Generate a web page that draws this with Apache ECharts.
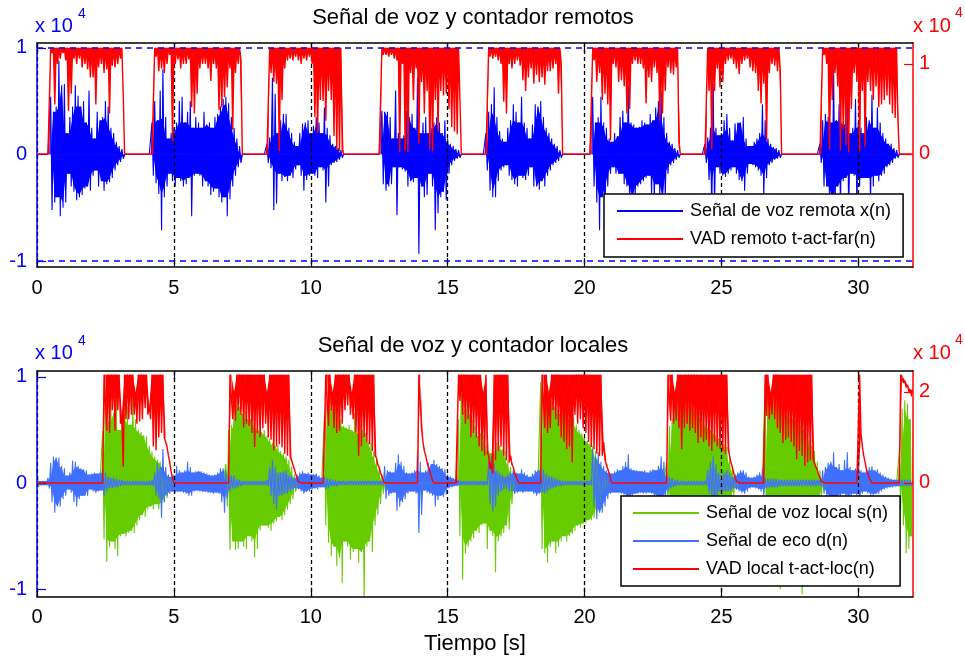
<!DOCTYPE html>
<html>
<head>
<meta charset="utf-8">
<script src="https://cdn.jsdelivr.net/npm/echarts@6/dist/echarts.min.js"></script>
<style>html,body{margin:0;padding:0;background:#fff}#c{width:965px;height:659px}</style>
</head>
<body>
<div id="c"></div>
<script>
// ---- data (sample bins every dt seconds; values in hundredths of 10^4) ----
const dt = 0.1;
const unit = 100;
const xTicks = [0, 5, 10, 15, 20, 25, 30];
const farLeftTicks = [-1, 0, 1];
const farRightTicks = [0, 1];
const locLeftTicks = [-1, 0, 1];
const locRightTicks = [0, 2];
const refLines = [1, -1];
const vadFarMax = 118;

// top: far-end speech x(n), upper / lower peaks per bin
const xUp = [
0,0,0,0,0,54,40,45,88,65, 66,20,35,45,65,55,45,50,30,60, 25,15,40,32,35,50,45,25,20,12, 8,5,0,0,0,0,0,0,0,0,
0,0,30,50,32,60,80,35,15,20, 25,30,50,54,30,40,50,25,35,30, 25,40,28,30,25,35,38,45,52,54, 48,35,25,15,8,0,0,0,0,0,
0,0,0,0,10,16,72,57,20,32, 38,38,25,20,12,8,20,29,30,32, 20,27,35,30,20,44,25,18,10,8, 6,4,0,0,0,0,0,0,0,0,
0,0,0,0,0,0,41,40,40,35, 15,60,20,15,18,41,35,38,25,72, 20,30,35,20,25,30,35,30,20,32, 15,10,8,5,4,0,0,0,0,0,
0,0,0,0,20,40,47,63,35,22, 15,12,25,32,47,40,30,54,30,25, 15,28,47,45,50,35,25,20,15,10, 8,4,0,0,0,0,0,0,0,0,
0,0,0,54,30,35,54,30,25,15, 12,20,17,35,41,30,65,30,28,25, 26,32,30,28,38,32,44,50,60,35, 20,12,10,6,4,0,0,0,0,0,
0,0,0,0,10,16,25,66,25,18, 20,32,38,25,13,29,30,30,35,15, 8,8,12,15,20,47,32,15,10,7, 6,4,0,0,0,0,0,0,0,0,
0,0,0,0,0,0,10,32,38,35, 30,80,32,47,30,28,65,20,25,52, 30,25,20,35,32,56,25,44,30,20, 15,10,10,6,4,0,0,0,0,0];
const xLo = [
0,0,0,0,0,-52,-45,-40,-58,-50, -45,-18,-30,-35,-43,-40,-38,-32,-30,-34, -20,-15,-30,-25,-34,-28,-26,-22,-15,-10, -7,-4,0,0,0,0,0,0,0,0,
0,0,-20,-27,-37,-71,-40,-30,-18,-25, -30,-22,-25,-30,-28,-22,-58,-20,-18,-20, -30,-25,-30,-38,-35,-32,-40,-45,-40,-58, -42,-30,-20,-12,-8,0,0,0,0,0,
0,0,0,0,-8,-13,-52,-46,-18,-25, -21,-25,-20,-22,-14,-10,-20,-34,-24,-20, -18,-20,-22,-12,-15,-45,-30,-10,-8,-7, -5,-3,0,0,0,0,0,0,0,0,
0,0,0,0,0,0,-28,-34,-30,-28, -12,-57,-12,-14,-16,-30,-25,-26,-22,-93, -30,-40,-38,-18,-30,-71,-55,-40,-35,-43, -18,-10,-6,-4,-3,0,0,0,0,0,
0,0,0,0,-15,-34,-40,-40,-25,-15, -12,-10,-20,-24,-28,-30,-20,-22,-24,-20, -12,-30,-30,-33,-25,-30,-20,-15,-10,-8, -6,-3,0,0,0,0,0,0,0,0,
0,0,0,-30,-45,-71,-40,-62,-30,-18, -12,-18,-18,-18,-28,-30,-56,-45,-40,-30, -28,-25,-22,-20,-40,-45,-28,-40,-50,-40, -18,-10,-8,-5,-3,0,0,0,0,0,
0,0,0,0,-8,-24,-55,-50,-12,-18, -20,-21,-18,-15,-12,-18,-24,-25,-34,-18, -9,-10,-12,-15,-20,-40,-22,-10,-8,-5, -4,-3,0,0,0,0,0,0,0,0,
0,0,0,0,0,0,-8,-30,-30,-45, -50,-55,-30,-50,-25,-22,-55,-18,-20,-50, -30,-22,-22,-22,-45,-30,-20,-25,-20,-18, -12,-10,-8,-4,-3,0,0,0,0,0];
// top: far VAD counter, lowest value per bin (0 = inactive)
const vadFarDip = [
0,0,0,0,0,112,55,100,106,112, 104,48,67,106,100,106,96,100,94,85, 85,55,96,100,90,94,45,98,96,100, 106,67,0,0,0,0,0,0,0,0,
0,0,0,108,92,95,90,100,110,14, 100,105,95,100,100,105,52,45,67,95, 100,100,95,81,100,95,49,52,63,74, 95,27,90,100,105,0,0,0,0,0,
0,0,0,0,0,90,80,78,3,60, 95,104,106,104,108,104,100,106,104,108, 100,41,23,60,59,37,70,60,20,5, 3,5,0,0,0,0,0,0,0,0,
0,0,0,0,0,0,110,110,108,110, 106,104,2,100,3,2,90,60,95,12, 80,45,70,5,3,60,25,70,65,67, 50,30,25,22,60,0,0,0,0,0,
0,0,0,0,0,108,106,108,104,100, 58,45,100,95,100,104,98,82,70,85, 95,78,88,80,85,77,92,92,95,100, 67,100,0,0,0,0,0,0,0,0,
0,0,0,104,80,90,60,67,55,15, 100,96,80,82,75,45,50,100,104,100, 100,95,56,85,80,96,90,37,45,70, 96,90,88,96,12,0,0,0,0,0,
0,0,0,0,0,70,5,70,95,74, 80,100,104,106,100,95,89,100,104,106, 96,92,90,70,56,78,15,90,100,98, 92,95,0,0,0,0,0,0,0,0,
0,0,0,0,0,0,0,110,100,5, 60,90,75,4,27,10,2,50,90,80, 3,70,8,80,70,60,75,52,55,60, 65,55,45,40,37,0,0,0,0,0];

// bottom: local speech s(n)
const sUp = [
14,0,0,0,0,0,0,0,0,0, 0,0,0,0,0,0,0,0,0,0, 0,0,0,0,49,90,58,75,66,79, 50,60,65,72,55,83,60,50,48,45,
44,35,30,25,22,20,18,12,8,4, 0,0,0,0,0,0,0,0,0,0, 0,0,0,0,0,0,0,0,0,18, 50,55,87,78,72,65,68,60,60,55,
52,50,48,50,45,42,38,35,36,30, 28,25,22,15,8,0,0,0,0,0, 0,0,0,0,0,63,75,83,70,80, 78,60,54,52,55,50,66,47,55,50,
47,40,38,30,22,15,8,0,0,0, 0,0,0,0,0,0,0,0,0,0, 0,0,0,0,0,0,0,0,0,0, 0,0,0,0,60,102,75,70,65,60,
54,44,47,45,35,30,28,30,38,35, 32,30,22,15,8,0,0,0,0,0, 0,0,0,0,95,85,79,75,78,72, 70,65,82,68,60,75,62,55,50,47,
45,40,38,35,30,22,15,10,5,0, 0,0,0,0,0,0,0,0,0,0, 0,0,0,0,0,0,0,0,0,0, 20,54,60,87,85,75,80,85,75,72,
70,68,62,60,55,52,50,47,45,42, 40,36,34,25,15,8,0,0,0,0, 0,0,0,0,0,0,95,94,82,80, 75,72,72,70,68,62,60,58,66,55,
50,47,40,35,30,20,12,6,0,0, 0,0,0,0,0,0,0,0,0,0, 0,0,0,0,0,0,0,0,0,0, 0,0,0,0,0,30,70,78,75,60];
const sLo = [
-4,0,0,0,0,0,0,0,0,0, 0,0,0,0,0,0,0,0,0,0, 0,0,0,0,-53,-74,-60,-55,-62,-69, -50,-48,-50,-47,-45,-47,-40,-35,-30,-32,
-25,-22,-25,-20,-25,-20,-18,-14,-8,-3, 0,0,0,0,0,0,0,0,0,0, 0,0,0,0,0,0,0,0,0,-22, -63,-55,-63,-62,-55,-60,-62,-50,-55,-70,
-62,-45,-40,-40,-42,-45,-38,-36,-32,-35, -30,-25,-20,-15,-8,0,0,0,0,0, 0,0,0,0,0,-40,-56,-69,-60,-78, -70,-94,-55,-60,-72,-65,-62,-75,-65,-107,
-60,-55,-65,-40,-30,-20,-10,0,0,0, 0,0,0,0,0,0,0,0,0,0, 0,0,0,0,0,0,0,0,0,0, 0,0,0,0,-50,-91,-66,-60,-55,-52,
-45,-47,-40,-38,-62,-45,-50,-84,-55,-50, -47,-40,-44,-20,-10,0,0,0,0,0, 0,0,0,0,-62,-66,-75,-60,-55,-66, -60,-55,-50,-55,-50,-48,-45,-40,-42,-38,
-38,-35,-35,-33,-28,-22,-16,-10,-5,0, 0,0,0,0,0,0,0,0,0,0, 0,0,0,0,0,0,0,0,0,0, -20,-40,-50,-55,-60,-55,-60,-55,-50,-50,
-50,-45,-45,-42,-40,-40,-38,-35,-35,-30, -30,-28,-25,-20,-12,-6,0,0,0,0, 0,0,0,0,0,0,-70,-65,-60,-62, -60,-100,-58,-55,-52,-55,-50,-48,-50,-105,
-45,-42,-40,-35,-30,-22,-14,-6,0,0, 0,0,0,0,0,0,0,0,0,0, 0,0,0,0,0,0,0,0,0,0, 0,0,0,0,0,-25,-40,-66,-62,-50];

// bottom: echo d(n)
const dUp = [
2,2,2,2,5,19,25,24,24,16, 14,7,10,21,20,16,14,13,12,8, 9,10,9,10,14,10,6,5,5,4, 3,3,2,2,2,2,2,2,2,2,
2,2,3,10,19,15,32,15,8,6, 8,16,12,10,12,20,15,10,11,11, 11,10,9,8,7,8,10,14,14,12, 8,7,7,4,3,2,2,2,2,2,
2,2,2,2,3,15,22,15,10,10, 11,12,8,7,5,8,10,11,9,10, 8,8,9,7,5,6,5,4,3,3, 2,2,2,2,2,2,2,2,2,2,
2,2,2,2,2,2,2,16,12,11, 10,19,27,20,16,10,9,10,12,30, 20,10,12,19,18,22,18,16,14,13, 8,6,5,4,3,2,2,2,2,2,
2,2,2,2,2,20,26,18,12,10, 8,6,8,10,12,10,9,13,10,8, 6,9,12,12,13,13,9,7,6,5, 4,3,2,2,2,2,2,2,2,2,
2,2,2,32,25,29,20,16,12,10, 9,11,13,12,16,20,27,14,12,12, 11,11,12,10,12,13,12,16,25,20, 10,6,5,3,3,2,2,2,2,2,
2,2,2,2,2,12,20,25,18,10, 8,10,12,10,6,8,10,12,12,10, 6,5,6,8,10,14,5,4,4,4, 4,3,3,3,3,3,3,3,3,3,
3,3,3,3,3,3,3,12,15,19, 20,29,15,18,12,22,29,15,12,14, 35,12,10,12,15,16,12,13,10,8, 6,5,4,3,3,3,3,3,3,3];
const dLo = [
-2,-2,-2,-2,-5,-18,-28,-22,-22,-15, -12,-6,-9,-18,-22,-15,-12,-12,-12,-6, -8,-9,-8,-7,-12,-8,-5,-5,-4,-4, -3,-2,-2,-2,-2,-2,-2,-2,-2,-2,
-2,-2,-3,-12,-15,-33,-18,-12,-10,-8, -9,-8,-8,-9,-10,-12,-12,-8,-7,-8, -8,-8,-9,-9,-10,-9,-10,-18,-28,-15, -8,-5,-5,-4,-3,-2,-2,-2,-2,-2,
-2,-2,-2,-2,-3,-12,-20,-25,-12,-12, -10,-10,-8,-6,-5,-6,-8,-10,-8,-8, -6,-5,-6,-4,-4,-6,-5,-3,-3,-3, -2,-2,-2,-2,-2,-2,-2,-2,-2,-2,
-2,-2,-2,-2,-2,-2,-2,-15,-12,-10, -9,-26,-22,-18,-15,-10,-8,-8,-10,-47, -30,-7,-9,-10,-12,-22,-16,-12,-13,-11, -5,-4,-3,-3,-2,-2,-2,-2,-2,-2,
-2,-2,-2,-2,-2,-20,-27,-22,-12,-8, -6,-6,-8,-8,-10,-9,-8,-9,-8,-8, -8,-10,-12,-10,-9,-10,-8,-6,-5,-4, -3,-3,-2,-2,-2,-2,-2,-2,-2,-2,
-2,-2,-2,-22,-34,-28,-28,-22,-15,-10, -9,-9,-9,-10,-11,-18,-20,-12,-10,-10, -9,-10,-10,-9,-10,-12,-12,-14,-20,-18, -8,-5,-4,-3,-2,-2,-2,-2,-2,-2,
-2,-2,-2,-2,-2,-10,-15,-20,-12,-8, -8,-8,-8,-8,-5,-6,-8,-9,-10,-8, -5,-4,-5,-6,-8,-12,-5,-4,-4,-4, -4,-3,-3,-3,-3,-3,-3,-3,-3,-3,
-3,-3,-3,-3,-3,-3,-3,-10,-12,-15, -15,-20,-12,-15,-10,-15,-20,-12,-10,-12, -25,-10,-8,-10,-12,-12,-10,-10,-8,-6, -5,-4,-4,-3,-3,-3,-3,-3,-3,-3];

// bottom: local VAD counter, value at bin start / lowest value in bin
const vadLocHi = [
0,0,0,0,0,0,0,0,0,0, 0,0,0,0,0,0,0,0,0,0, 0,0,0,0,0,238,238,238,238,238, 238,150,238,238,238,238,200,238,238,238,
238,170,238,238,238,238,238,100,60,25, 0,0,0,0,0,0,0,0,0,0, 0,0,0,0,0,0,0,0,0,0, 0,238,200,238,238,238,238,238,238,238,
238,238,238,238,200,238,238,238,238,238, 238,238,238,50,30,10,0,0,0,0, 0,0,0,0,0,0,238,238,200,238, 238,238,238,238,238,200,238,238,238,238,
238,238,238,238,55,35,15,0,0,0, 0,0,0,0,0,0,0,0,0,0, 238,90,60,35,15,0,0,0,0,0, 0,0,0,0,238,238,238,238,238,238,
238,238,238,200,238,60,40,238,238,238, 238,238,238,60,35,15,0,0,0,0, 0,0,0,0,0,238,238,200,238,238, 238,238,238,238,238,238,238,238,238,238,
238,238,238,238,238,238,238,90,50,22, 0,0,0,0,0,0,0,0,0,0, 0,0,0,0,0,0,0,0,0,0, 0,238,238,200,238,238,238,238,238,238,
238,238,238,238,238,238,238,238,238,238, 238,238,238,60,35,12,0,0,0,0, 0,0,0,0,0,0,238,238,200,238, 238,238,238,238,238,238,238,238,238,238,
238,238,238,238,50,30,12,0,0,0, 0,0,0,0,0,0,0,0,0,0, 0,110,60,30,12,0,0,0,0,0, 0,0,0,0,0,0,238,225,215,205];
const vadLocLo = [
0,0,0,0,0,0,0,0,0,0, 0,0,0,0,0,0,0,0,0,0, 0,0,0,0,238,115,110,160,115,160, 130,35,140,140,150,150,130,135,140,165,
150,140,80,72,100,110,100,80,45,12, 0,0,0,0,0,0,0,0,0,0, 0,0,0,0,0,0,0,0,0,0, 238,140,137,158,150,122,130,125,110,79,
110,100,120,130,100,95,72,80,85,78, 64,60,55,40,20,3,0,0,0,0, 0,0,0,0,0,238,125,160,120,110, 115,130,160,170,150,140,110,60,80,100,
90,85,70,60,40,22,5,0,0,0, 0,0,0,0,0,0,0,0,0,238, 117,70,45,25,5,0,0,0,0,0, 0,0,0,0,180,150,130,140,100,110,
100,80,70,60,65,30,20,50,70,80, 60,50,45,40,20,5,0,0,0,0, 0,0,0,0,238,120,110,120,160,140, 125,100,90,74,80,45,150,130,140,120,
110,90,79,74,64,59,60,50,30,8, 0,0,0,0,0,0,0,0,0,0, 0,0,0,0,0,0,0,0,0,0, 238,137,130,137,120,74,120,130,115,120,
110,88,100,90,95,80,70,90,80,75, 70,64,74,45,22,4,0,0,0,0, 0,0,0,0,0,0,147,140,150,140, 120,110,88,95,100,90,80,52,70,60,
37,45,50,52,35,18,4,0,0,0, 0,0,0,0,0,0,0,0,0,0, 238,80,45,20,5,0,0,0,0,0, 0,0,0,0,0,238,220,210,200,190];

const topLegend = ['Señal de voz remota x(n)', 'VAD remoto t-act-far(n)'];
const botLegend = ['Señal de voz local s(n)', 'Señal de eco d(n)', 'VAD local t-act-loc(n)'];

// ---- build ----
const FONT = '"Liberation Sans", Arial, Helvetica, sans-serif';
const BLUE = '#0000FF', RED = '#FF0000', GREEN = '#66CC00', LBLUE = '#4070FF';

function tAt(i, half) { return +(i * dt + (half ? dt / 2 : 0)).toFixed(3); }
function zig(hi, lo) {
  const d = [];
  for (let i = 0; i < hi.length; i++) {
    d.push([tAt(i, 0), hi[i] * unit]);
    d.push([tAt(i, 1), lo[i] * unit]);
  }
  return d;
}
function binData(hi, lo) {
  const d = [];
  for (let i = 0; i < hi.length; i++) {
    const hn = i + 1 < hi.length ? hi[i + 1] : hi[i];
    d.push([tAt(i, 0), hi[i] * unit, lo[i] * unit, hn * unit]);
  }
  return d;
}
const vadFarHi = vadFarDip.map(v => (v > 0 ? vadFarMax : 0));

// dense body of a trace: the smaller of each peak and its neighbours (filled down to 0)
function body(arr, half) {
  const n = arr.length, d = [];
  for (let i = 0; i < n; i++) {
    const a = arr[Math.max(i - 1, 0)], b = arr[Math.min(i + 1, n - 1)], v = arr[i];
    const m = v >= 0 ? Math.min(a, v, b) : Math.max(a, v, b);
    d.push([tAt(i, half), (v >= 0 ? Math.max(m, 0) : Math.min(m, 0)) * unit]);
  }
  return d;
}
function bodySeries(xi, yi, arr, half, color, z) {
  return {
    type: 'line', xAxisIndex: xi, yAxisIndex: yi, data: body(arr, half), z: z,
    symbol: 'none', showSymbol: false, silent: true, clip: true,
    lineStyle: { width: 0, opacity: 0 }, areaStyle: { color: color, opacity: 1 }
  };
}
// filled shape of each bin: 'zero' = between the trace and 0, 'hold' = between the dip and the held value
function fill(xi, yi, hi, lo, color, mode, z) {
  return {
    type: 'custom', xAxisIndex: xi, yAxisIndex: yi, z: z, silent: true, clip: true,
    data: binData(hi, lo), encode: { x: 0, y: [1, 2, 3] },
    renderItem: function (params, api) {
      const t = api.value(0), h = api.value(1), l = api.value(2), n = api.value(3);
      if (h === 0 && l === 0 && n === 0) return null;
      const pts = mode === 'zero'
        ? [api.coord([t, 0]), api.coord([t, h]), api.coord([t + dt / 2, l]), api.coord([t + dt, n]), api.coord([t + dt, 0])]
        : [api.coord([t, h]), api.coord([t + dt / 2, l]), api.coord([t + dt, n])];
      return { type: 'polygon', shape: { points: pts }, style: { fill: color, stroke: null }, silent: true };
    }
  };
}
function trace(name, xi, yi, hi, lo, color, z, w) {
  return {
    name: name, type: 'line', xAxisIndex: xi, yAxisIndex: yi, data: zig(hi, lo), z: z,
    symbol: 'none', showSymbol: false, silent: true, clip: true,
    lineStyle: { color: color, width: w || 1.1 }, itemStyle: { color: color }
  };
}
function speech(name, xi, yi, hi, lo, color, z, extra) {
  const tr = trace(name, xi, yi, hi, lo, color, z);
  if (extra) Object.assign(tr, extra);
  return [bodySeries(xi, yi, hi, 0, color, z), bodySeries(xi, yi, lo, 1, color, z),
          fill(xi, yi, hi, lo, color, 'zero', z), tr];
}

function xAx(grid, pos, labels, name) {
  const a = {
    type: 'value', gridIndex: grid, position: pos, min: 0, max: 32, z: 3,
    axisLine: { show: true, onZero: false, lineStyle: { color: '#000', width: 1.5 } },
    axisTick: { show: true, inside: true, length: 9, customValues: xTicks, lineStyle: { color: '#000', width: 1.2 } },
    axisLabel: { show: labels, customValues: xTicks, color: '#000', fontSize: 20, fontFamily: FONT, margin: 11 },
    splitLine: { show: labels, lineStyle: { color: '#000', width: 1.3, type: [4, 3] } }
  };
  if (name) {
    a.name = name; a.nameLocation = 'middle'; a.nameGap = 36;
    a.nameTextStyle = { color: '#000', fontSize: 22, fontFamily: FONT };
  }
  return a;
}
function yAx(grid, pos, min, max, ticks, color) {
  const vals = ticks.map(v => v * 1e4);
  return {
    type: 'value', gridIndex: grid, position: pos, min: min, max: max, z: 3,
    axisLine: { show: true, onZero: false, lineStyle: { color: color, width: 1.5 } },
    axisTick: { show: true, inside: true, length: 9, customValues: vals, lineStyle: { color: color, width: 1.2 } },
    axisLabel: { show: true, customValues: vals, formatter: v => String(Math.round(v / 1e4)), color: color,
      fontSize: 20, fontFamily: FONT, margin: pos === 'left' ? 10 : 6 },
    splitLine: { show: false }
  };
}
function legendCfg(data, left, top, pad) {
  return {
    data: data, orient: 'vertical', left: left, top: top, padding: pad,
    itemWidth: 66, itemHeight: 2, itemGap: 8, icon: 'rect', selectedMode: false,
    borderColor: '#000', borderWidth: 1.5, backgroundColor: '#fff', borderRadius: 0, z: 10,
    textStyle: { color: '#000', fontSize: 18, fontFamily: FONT, lineHeight: 20, padding: [0, 0, 0, 2] }
  };
}
function txt(x, y, s, size, color) {
  return { type: 'text', x: x, y: y, z: 20,
    style: { text: s, fontSize: size, fontFamily: FONT, fill: color, textVerticalAlign: 'middle' } };
}

const refMarks = {
  markLine: {
    silent: true, symbol: 'none', animation: false, label: { show: false },
    lineStyle: { color: BLUE, width: 1.5, type: [6, 5] },
    data: refLines.map(v => ({ yAxis: v * 1e4 }))
  }
};

const option = {
  animation: false,
  backgroundColor: '#fff',
  title: [
    { text: 'Señal de voz y contador remotos', left: 473, top: 7, textAlign: 'center', padding: 0,
      textStyle: { fontSize: 22, fontWeight: 'normal', fontFamily: FONT, color: '#000' } },
    { text: 'Señal de voz y contador locales', left: 473, top: 335, textAlign: 'center', padding: 0,
      textStyle: { fontSize: 22, fontWeight: 'normal', fontFamily: FONT, color: '#000' } }
  ],
  legend: [
    legendCfg(topLegend, 604, 194, [7, 12, 8, 13]),
    legendCfg(botLegend, 621, 496, [7, 12, 7, 12])
  ],
  grid: [
    { left: 37, right: 52, top: 43, height: 224 },
    { left: 37, right: 52, top: 371, height: 225.7 }
  ],
  xAxis: [xAx(0, 'bottom', true), xAx(0, 'top', false), xAx(1, 'bottom', true, 'Tiempo [s]'), xAx(1, 'top', false)],
  yAxis: [
    yAx(0, 'left', -10550, 10450, farLeftTicks, BLUE),
    yAx(0, 'right', -12560, 12330, farRightTicks, RED),
    yAx(1, 'left', -10700, 10550, locLeftTicks, BLUE),
    yAx(1, 'right', -25000, 24600, locRightTicks, RED)
  ],
  series: [
    ...speech(topLegend[0], 0, 0, xUp, xLo, BLUE, 2, refMarks),
    fill(0, 1, vadFarHi, vadFarDip, RED, 'hold', 4),
    trace(topLegend[1], 0, 1, vadFarHi, vadFarDip, RED, 4, 1.4),
    ...speech(botLegend[0], 2, 2, sUp, sLo, GREEN, 2),
    ...speech(botLegend[1], 2, 2, dUp, dLo, LBLUE, 2),
    fill(2, 3, vadLocHi, vadLocLo, RED, 'hold', 4),
    trace(botLegend[2], 2, 3, vadLocHi, vadLocLo, RED, 4, 1.4)
  ],
  graphic: [
    txt(35, 26, 'x 10', 20, BLUE), txt(78, 14, '4', 14, BLUE),
    txt(913, 26, 'x 10', 20, RED), txt(955, 13, '4', 14, RED),
    txt(35, 353, 'x 10', 20, BLUE), txt(78, 341, '4', 14, BLUE),
    txt(913, 353, 'x 10', 20, RED), txt(955, 340, '4', 14, RED)
  ]
};
const chart = echarts.init(document.getElementById('c'), null, { renderer: 'canvas' });
chart.setOption(option);
</script>
</body>
</html>
